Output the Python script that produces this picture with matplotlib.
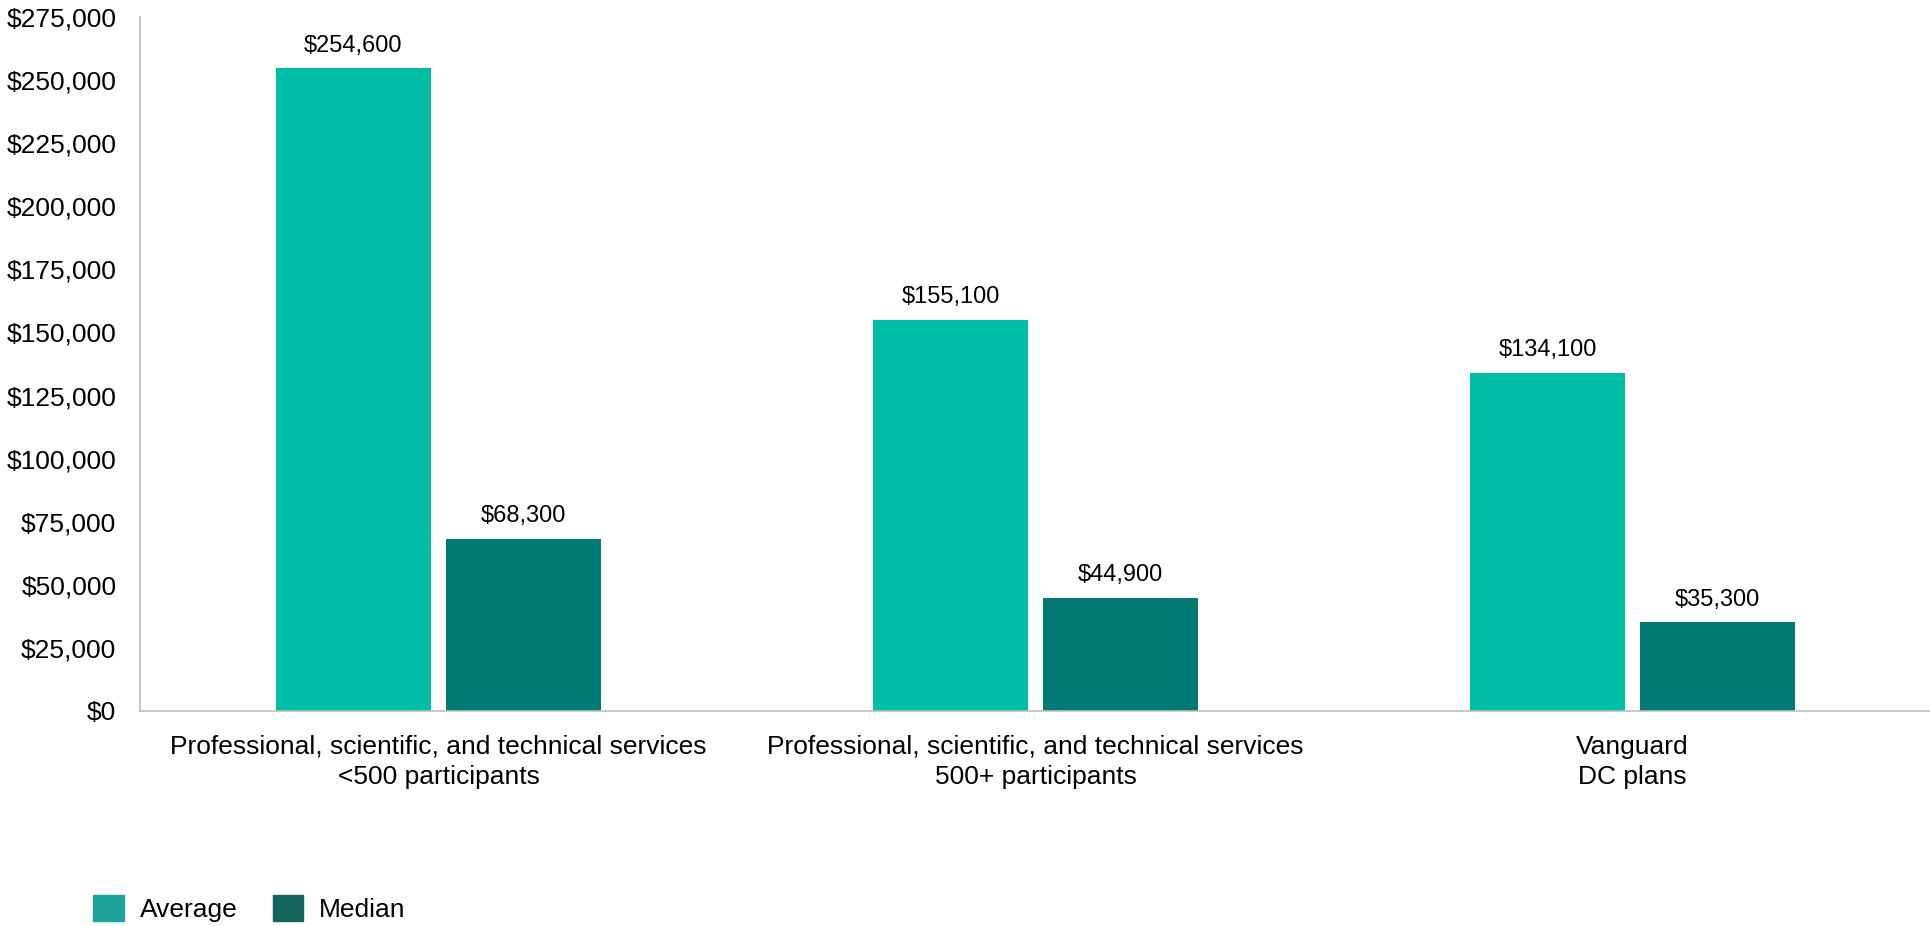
"""Average and median account balances, professional/scientific/technical services vs Vanguard DC plans."""
import matplotlib
matplotlib.use("Agg")
import matplotlib.pyplot as plt
from matplotlib.patches import Patch
from matplotlib.ticker import FuncFormatter
import numpy as np

plt.rcParams["font.family"] = ["Liberation Sans", "DejaVu Sans"]

CATEGORIES = [
    "Professional, scientific, and technical services\n<500 participants",
    "Professional, scientific, and technical services\n500+ participants",
    "Vanguard\nDC plans",
]
AVERAGE = [254600, 155100, 134100]
MEDIAN = [68300, 44900, 35300]
YTICKS = list(range(0, 275001, 25000))

AVG_COLOR = "#00BDA5"
MED_COLOR = "#007A73"
FS = 19

fig = plt.figure(figsize=(19.31, 9.26), dpi=100)
ax = fig.add_axes([140 / 1931, 215 / 926, 1 - 140 / 1931, 694 / 926])

x = np.arange(len(CATEGORIES))
w, off = 0.26, 0.1425
b1 = ax.bar(x - off, AVERAGE, w, color=AVG_COLOR)
b2 = ax.bar(x + off, MEDIAN, w, color=MED_COLOR)

for bars in (b1, b2):
    for r in bars:
        ax.annotate(f"${r.get_height():,.0f}", (r.get_x() + r.get_width() / 2, r.get_height()),
                    xytext=(0, 16), textcoords="offset points", ha="center", va="center",
                    fontsize=17)

ax.set_xlim(-0.5, len(CATEGORIES) - 0.5)
ax.set_ylim(0, 275000)
ax.set_yticks(YTICKS)
ax.yaxis.set_major_formatter(FuncFormatter(lambda v, _: f"${v:,.0f}"))
ax.set_xticks(x)
ax.set_xticklabels(CATEGORIES, fontsize=FS, linespacing=1.35)
ax.tick_params(axis="y", length=0, pad=17, labelsize=FS)
ax.tick_params(axis="x", length=0, pad=17)
for s in ("top", "right"):
    ax.spines[s].set_visible(False)
for s in ("left", "bottom"):
    ax.spines[s].set_color("#BFBFBF")
    ax.spines[s].set_linewidth(1.2)

handles = [Patch(color="#1DA39A", label="Average"), Patch(color="#14645E", label="Median")]
fig.legend(handles=handles, loc="lower left", bbox_to_anchor=(93 / 1931, 4 / 926), ncol=2,
           frameon=False, fontsize=FS, handlelength=1.17, handleheight=1.15,
           handletextpad=0.6, columnspacing=1.33, borderpad=0, borderaxespad=0)

fig.savefig("out.png", dpi=100)
